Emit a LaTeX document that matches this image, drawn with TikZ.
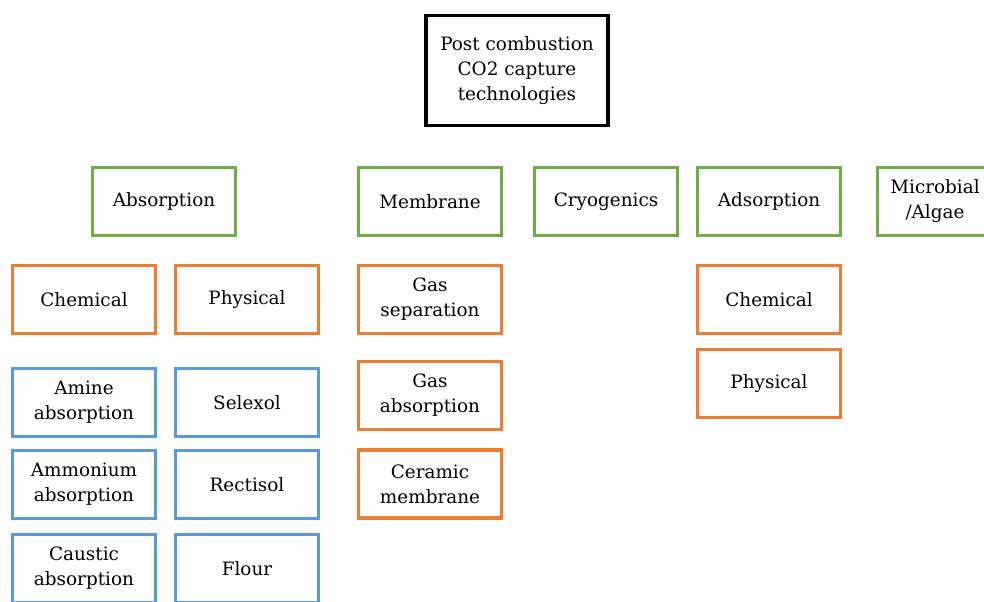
\documentclass[tikz,border=0pt]{standalone}
\usepackage{fontspec}
\setmainfont{DejaVu Serif}
\usepackage{xcolor}
\usetikzlibrary{positioning}

\definecolor{grn}{RGB}{112,173,71}
\definecolor{org}{RGB}{237,125,49}
\definecolor{blu}{RGB}{91,155,213}

\begin{document}
\begin{tikzpicture}[x=0.75pt, y=-0.75pt,
  font=\fontsize{13.8}{18.75}\selectfont,
  box/.style={draw, line width=2.3pt, fill=white, align=center,
    minimum width=107pt, minimum height=51pt, inner sep=1pt}]
\clip (0,0) rectangle (984,601);
% titulo
\node[box, draw=black, line width=2.8pt, minimum width=136pt, minimum height=82.5pt] (top) at (517,70.5)
  {Post combustion\\CO2 capture\\technologies};
% familias
\foreach \x/\nm/\lbl in {164/absn/Absorption, 430/memb/Membrane, 606/cryo/Cryogenics,
  769/adsn/Adsorption}{
  \node[box, draw=grn] (\nm) at (\x,201.5) {\lbl};
}
\node[box, draw=grn] (micr) at (949,201.5) {};
\node[align=center, inner sep=0pt] (micrtxt) at (935,201.5) {Microbial\\/Algae};
% subtipos
\foreach \x/\y/\nm/\lbl in {84/299.5/abchem/Chemical, 247/299.5/abphys/Physical,
  430/299.5/gassep/{Gas\\separation}, 430/395.5/gasabs/{Gas\\absorption},
  430/484/ceram/{Ceramic\\membrane}, 769/299.5/adchem/Chemical, 769/383.5/adphys/Physical}{
  \node[box, draw=org] (\nm) at (\x,\y) {\lbl};
}
% procesos
\foreach \x/\y/\nm/\lbl in {84/402.5/amine/{Amine\\absorption}, 247/402.5/selex/Selexol,
  84/484.5/ammon/{Ammonium\\absorption}, 247/484.5/recti/Rectisol,
  84/568.5/caust/{Caustic\\absorption}, 247/568.5/flour/Flour}{
  \node[box, draw=blu] (\nm) at (\x,\y) {\lbl};
}
\end{tikzpicture}
\end{document}
